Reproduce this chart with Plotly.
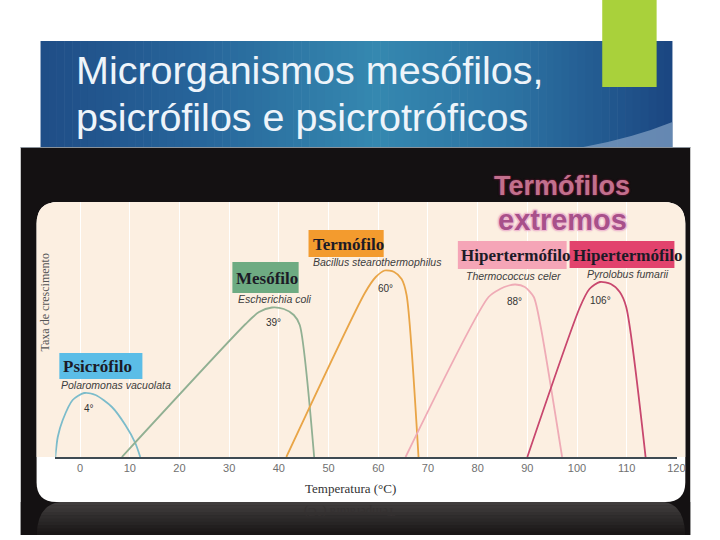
import plotly.graph_objects as go

W, H = 720, 540

# ---------------- data ----------------
temp_ticks = [0, 10, 20, 30, 40, 50, 60, 70, 80, 90, 100, 110, 120]
tick_labels = [str(t) for t in temp_ticks]

psicrofilo_temp = [-5, -4.5, -3.5, -1.5, 0.8, 3.1, 6.4, 9.1, 11.1, 12.1]
psicrofilo_rate = [0, 20, 37, 57, 64, 62, 50, 32, 14, 0]

mesofilo_temp = [8.4, 33.3, 36, 38.6, 41, 43, 44.2, 47.1]
mesofilo_rate = [0, 133, 145, 149.5, 148, 142, 132, 0]

termofilo_temp = [41.5, 57.3, 59.5, 61.3, 63.2, 64.7, 65.7, 68.1]
termofilo_rate = [0, 164, 180, 186.5, 185, 178, 162, 0]

hiper1_temp = [65.5, 82.2, 84.5, 86.3, 87.6, 89.5, 91.3, 92.7, 97]
hiper1_rate = [0, 160, 168, 171.5, 172.5, 170, 160, 130, 0]

hiper2_temp = [90, 100.6, 102.5, 104.6, 106.8, 108.6, 109.9, 113.8]
hiper2_rate = [0, 150, 168, 175, 173, 165, 150, 0]

group_names = ["Psicrófilo", "Mesófilo", "Termófilo", "Hipertermófilo", "Hipertermófilo"]
species_names = ["Polaromonas vacuolata", "Escherichia coli", "Bacillus stearothermophilus",
                 "Thermococcus celer", "Pyrolobus fumarii"]
optimum_labels = ["4°", "39°", "60°", "88°", "106°"]

title_lines = ["Microrganismos mesófilos,", "psicrófilos e psicrotróficos"]
x_title = "Temperatura (°C)"
y_title = "Taxa de crescimento"

# ---------------- helpers ----------------
def X(px):
    return px / W

def Y(py):
    return 1 - py / H

def rect(x0, y0, x1, y1, color, opacity=1.0, layer="below"):
    return dict(type="rect", xref="paper", yref="paper", x0=X(x0), x1=X(x1),
                y0=Y(y1), y1=Y(y0), fillcolor=color, opacity=opacity,
                line=dict(width=0), layer=layer)

def P(x, y):
    return f"{X(x):.5f},{Y(y):.5f}"

def rrect(x0, y0, x1, y1, rtl, rtr, rbr, rbl, color):
    d = (f"M {P(x0 + rtl, y0)} L {P(x1 - rtr, y0)} Q {P(x1, y0)} {P(x1, y0 + rtr)} "
         f"L {P(x1, y1 - rbr)} Q {P(x1, y1)} {P(x1 - rbr, y1)} "
         f"L {P(x0 + rbl, y1)} Q {P(x0, y1)} {P(x0, y1 - rbl)} "
         f"L {P(x0, y0 + rtl)} Q {P(x0, y0)} {P(x0 + rtl, y0)} Z")
    return dict(type="path", xref="paper", yref="paper", path=d, fillcolor=color,
                line=dict(width=0), layer="below")

def hex2rgb(h):
    h = h.lstrip("#")
    return tuple(int(h[i:i + 2], 16) for i in (0, 2, 4))

def lerp_color(stops, t):
    for (t0, c0), (t1, c1) in zip(stops[:-1], stops[1:]):
        if t0 <= t <= t1:
            f = (t - t0) / (t1 - t0) if t1 > t0 else 0
            a, b = hex2rgb(c0), hex2rgb(c1)
            return "rgb(%d,%d,%d)" % tuple(round(a[i] + (b[i] - a[i]) * f) for i in range(3))
    return stops[-1][1]

shapes = []

# blue title band with horizontal gradient
band_stops = [(41, "#1f4d86"), (200, "#27659a"), (380, "#3588b0"), (520, "#2c72a2"), (680, "#1b4681")]
n = 80
bx0, bx1 = 41, 680
for i in range(n):
    xa = bx0 + (bx1 - bx0) * i / n
    xb = bx0 + (bx1 - bx0) * (i + 1) / n + 0.6
    shapes.append(rect(xa, 41, min(xb, bx1), 147, lerp_color(band_stops, (xa + xb) / 2)))
# light swoosh at bottom right of band
shapes.append(dict(type="path", xref="paper", yref="paper",
                   path=f"M {P(590, 147)} Q {P(640, 138)} {P(680, 122)} L {P(680, 147)} Z",
                   fillcolor="#7f9ec2", opacity=0.75, line=dict(width=0), layer="below"))

# green accent block
shapes.append(rect(609, 0, 664, 87, "#a9d13b"))

# dark photo background
shapes.append(rect(21, 147, 698, 535, "#141112"))
shapes.append(dict(type="line", xref="paper", yref="paper", x0=X(21), x1=X(698), y0=Y(147.5), y1=Y(147.5),
                   line=dict(color="#8a929a", width=1), layer="below"))

# reflection under the panel
ref_stops = [(0, "#403d3d"), (1, "#1a1717")]
m = 10
for i in range(m):
    ya = 502 + 33 * i / m
    yb = 502 + 33 * (i + 1) / m + 0.5
    shapes.append(rect(37, ya, 693, min(yb, 535), lerp_color(ref_stops, i / (m - 1))))
shapes.append(dict(type="path", xref="paper", yref="paper",
                   path=f"M {P(21, 502)} L {P(60, 502)} Q {P(38, 505)} {P(37, 535)} L {P(21, 535)} Z",
                   fillcolor="#141112", line=dict(width=0), layer="below"))
shapes.append(dict(type="path", xref="paper", yref="paper",
                   path=f"M {P(698, 502)} L {P(672, 502)} Q {P(692, 505)} {P(693, 535)} L {P(698, 535)} Z",
                   fillcolor="#141112", line=dict(width=0), layer="below"))

# white rounded panel and cream plot region
shapes.append(rrect(37, 202, 693, 502, 22, 22, 20, 20, "#ffffff"))
shapes.append(rrect(37, 202, 693, 457, 22, 22, 0, 0, "#fcefe1"))

# label boxes (above grid)
box_specs = [(60, 353, 144, 379, "#5bbde7"),
             (235, 262, 302, 293, "#6eab82"),
             (312, 230, 388, 257, "#f39b2e"),
             (463, 241, 573, 269, "#f5a5b7"),
             (576, 241, 682, 268, "#e2436d")]
for x0, y0, x1, y1, c in box_specs:
    shapes.append(rect(x0, y0, x1, y1, c, layer="above"))

# ---------------- figure ----------------
fig = go.Figure()
series = [
    (psicrofilo_temp, psicrofilo_rate, "#7cbccb"),
    (mesofilo_temp, mesofilo_rate, "#91b093"),
    (termofilo_temp, termofilo_rate, "#e9a547"),
    (hiper1_temp, hiper1_rate, "#efabb6"),
    (hiper2_temp, hiper2_rate, "#c8476e"),
]
for t, r, c in series:
    fig.add_trace(go.Scatter(x=t, y=r, mode="lines",
                             line=dict(color=c, width=1.8, shape="spline", smoothing=0.7),
                             hoverinfo="skip", showlegend=False))

ann = []
def text(x, y, s, size, color, family="Liberation Sans", xanchor="left", **kw):
    ann.append(dict(xref="paper", yref="paper", x=X(x), y=Y(y), text=s, showarrow=False,
                    xanchor=xanchor, yanchor="middle",
                    font=dict(family=family, size=size, color=color, **kw.pop("fontkw", {})), **kw))

# title
text(75, 69.5, title_lines[0], 39.5, "#eef4fa")
text(75, 117.5, title_lines[1], 39.5, "#eef4fa")

# extremes header
text(568, 186, "<b>Termófilos</b>", 27, "#c2708d", xanchor="center",
     fontkw=dict(shadow="0 0 2px #6a1633, 0 0 2px #6a1633"))
text(569, 220, "<b>extremos</b>", 29, "#a8508a", xanchor="center",
     fontkw=dict(shadow="1px 1px 0 #f0bcd2, -1px -1px 0 #f0bcd2, 1px -1px 0 #f0bcd2, -1px 1px 0 #f0bcd2, 0 0 3px #c06090"))

# group box texts
group_pos = [(62, 366), (237, 278), (314, 244), (464, 255), (577, 255)]
for (x, y), s in zip(group_pos, group_names):
    text(x, y, "<b>" + s + "</b>", 17, "#1c1a26", family="Liberation Serif")

species_pos = [(60, 385), (239, 299), (314, 262), (469, 276), (592, 274)]
for (x, y), s in zip(species_pos, species_names):
    text(x, y, "<i>" + s + "</i>", 10.5, "#3d3d3d")

opt_pos = [(90, 408), (277, 322), (390, 288), (520, 301), (607, 300)]
for (x, y), s in zip(opt_pos, optimum_labels):
    text(x, y, s, 10, "#333333", xanchor="center")

# axis titles
text(354, 488, x_title, 13, "#333333", family="Liberation Serif", xanchor="center")
ann.append(dict(xref="paper", yref="paper", x=X(45), y=Y(303), text=y_title, showarrow=False,
                textangle=-90, xanchor="center", yanchor="middle",
                font=dict(family="Liberation Serif", size=12, color="#555555")))
# faint reflection text
ann.append(dict(xref="paper", yref="paper", x=X(354), y=Y(513), text=x_title, showarrow=False,
                textangle=180, xanchor="center", yanchor="middle",
                font=dict(family="Liberation Serif", size=13, color="#353131")))

fig.update_layout(
    width=W, height=H, margin=dict(l=0, r=0, t=0, b=0),
    paper_bgcolor="#ffffff", plot_bgcolor="rgba(0,0,0,0)",
    shapes=shapes, annotations=ann,
    xaxis=dict(domain=[55.9 / W, 685 / W], range=[-5, 120.2],
               tickmode="array", tickvals=temp_ticks, ticktext=tick_labels,
               showgrid=True, gridcolor="rgba(255,255,255,0.95)", gridwidth=1.3,
               showline=True, linecolor="#3e4a52", linewidth=1.6, zeroline=False,
               ticks="", tickfont=dict(family="Liberation Sans", size=11, color="#707070"),
               fixedrange=True),
    yaxis=dict(domain=[1 - 457 / H, 1 - 202 / H], range=[0, 255], visible=False,
               fixedrange=True),
)

fig.write_html("out.html", config=dict(displayModeBar=False),
               post_script="document.body.style.margin='0';document.body.style.overflow='hidden';")
